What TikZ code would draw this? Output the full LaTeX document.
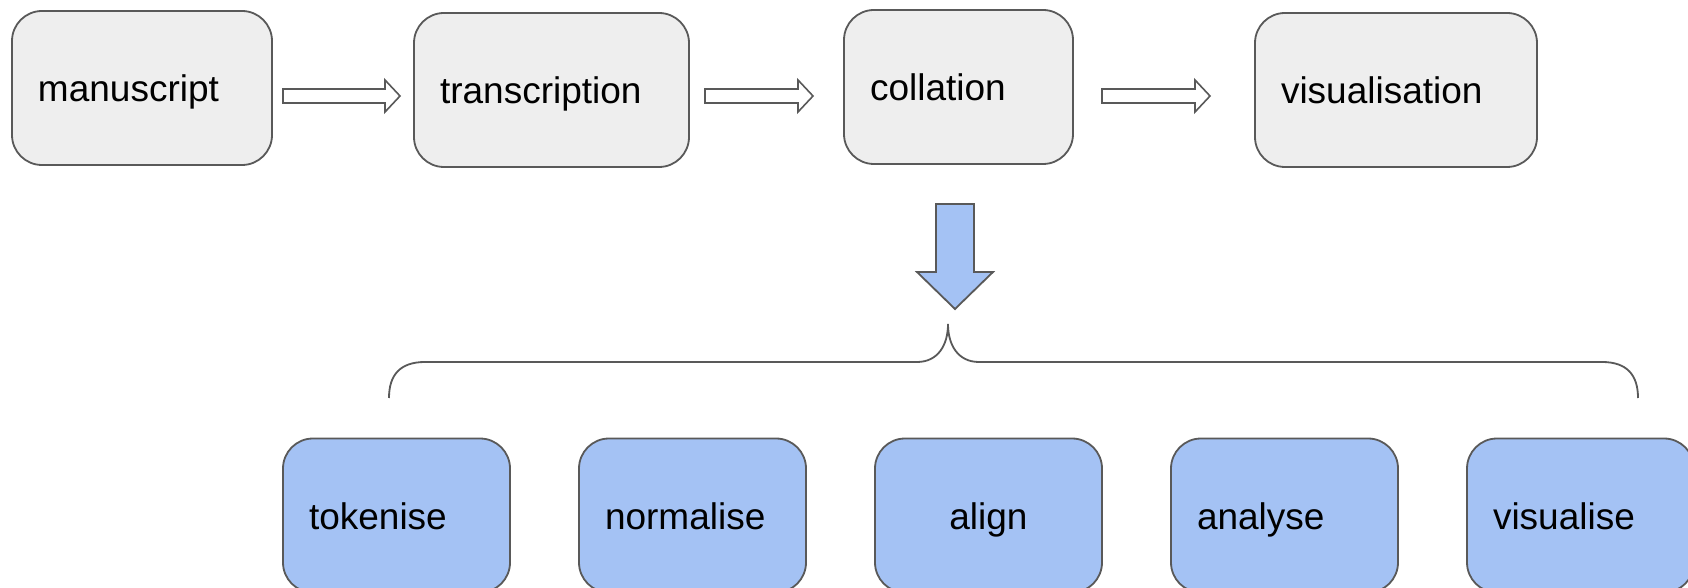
\documentclass[tikz,border=0pt]{standalone}
\usepackage{fontspec}
\setmainfont{Liberation Sans}
\definecolor{boxgray}{HTML}{EEEEEE}
\definecolor{boxblue}{HTML}{A4C2F4}
\definecolor{edge}{HTML}{595959}
\tikzset{
  card/.style={draw=edge, line width=0.9pt, rounded corners=15pt, inner xsep=13pt, inner ysep=0pt,
    align=left, font=\fontsize{18.5}{22}\selectfont, minimum height=77pt,
    text height=13.5pt, text depth=0pt},
  graycard/.style={card, fill=boxgray},
  bluecard/.style={card, fill=boxblue, minimum width=113.5pt, text width=87.5pt},
  hollow/.style={draw=edge, line width=0.8pt, fill=white},
  bigarrow/.style={draw=edge, line width=0.9pt, fill=boxblue},
  bracepath/.style={draw=edge, line width=0.9pt}
}
\begin{document}
\begin{tikzpicture}[x=0.5pt, y=-0.5pt]
\clip (0,0) rectangle (1688,588);
\fill[white] (0,0) rectangle (1688,588);
% top row
\node[graycard, minimum width=130pt, text width=104pt] (man) at (142,88) {manuscript};
\node[graycard, minimum width=137.5pt, text width=111.5pt] (tra) at (551.5,90) {transcription};
\node[graycard, minimum width=114.5pt, text width=88.5pt] (col) at (958.5,87) {collation};
\node[graycard, minimum width=141pt, text width=115pt] (vis) at (1396,90) {visualisation};
% hollow arrows
\draw[hollow] (283,89) -- (385,89) -- (385,80) -- (400,96) -- (385,112) -- (385,103) -- (283,103) -- cycle;
\draw[hollow] (705,89) -- (798,89) -- (798,80) -- (813,96) -- (798,112) -- (798,103) -- (705,103) -- cycle;
\draw[hollow] (1102,89) -- (1195,89) -- (1195,80) -- (1210,96) -- (1195,112) -- (1195,103) -- (1102,103) -- cycle;
% big down arrow
\draw[bigarrow] (936,204) -- (974,204) -- (974,272) -- (993,272) -- (955,309) -- (917,272) -- (936,272) -- cycle;
% brace
\draw[bracepath] (389,398) .. controls (389,375) and (400,362) .. (425,362) -- (917,362)
  .. controls (938,362) and (948,345) .. (948,324)
  .. controls (948,345) and (958,362) .. (979,362) -- (1602,362)
  .. controls (1627,362) and (1638,375) .. (1638,398);
% bottom row
\node[bluecard] (tok) at (396.5,515.5) {tokenise};
\node[bluecard] (nor) at (692.5,515.5) {normalise};
\node[bluecard, align=center] (ali) at (988.5,515.5) {align};
\node[bluecard] (ana) at (1284.5,515.5) {analyse};
\node[bluecard] (vse) at (1580.5,515.5) {visualise};
\end{tikzpicture}
\end{document}
